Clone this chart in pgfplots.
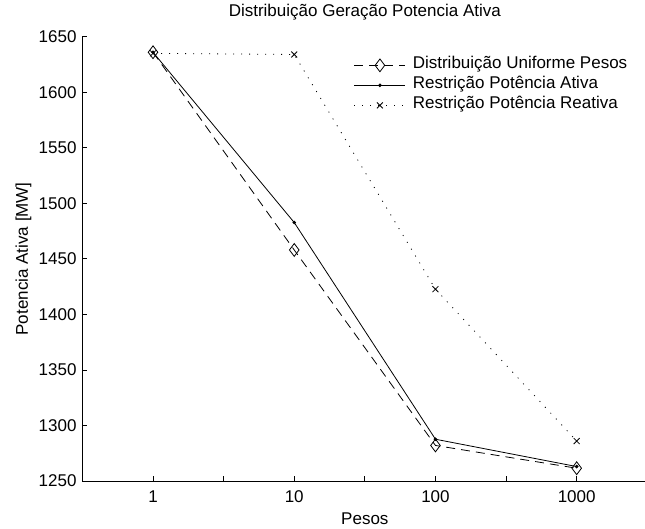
\documentclass[border=0pt]{standalone}
\usepackage{fontspec}
\setmainfont{Liberation Sans}
\usepackage{pgfplots}
\pgfplotsset{compat=1.18}

\begin{document}
\fontsize{17}{20}\selectfont
\begin{tikzpicture}
\begin{axis}[
  scale only axis,
  width=564.9pt, height=444.3pt,
  xmin=0.5, xmax=4.5,
  ymin=1250, ymax=1650,
  axis x line*=bottom, axis y line*=left,
  axis line style={-, line width=0.8pt},
  xtick={1,2,3,4}, xticklabels={1,10,100,1000},
  minor xtick={1.5,2.5,3.5,4.5},
  ytick={1250,1300,1350,1400,1450,1500,1550,1600,1650},
  tick align=inside,
  major tick length=5pt, minor tick length=5pt,
  tick style={line width=0.8pt, black},
  /pgf/number format/1000 sep={},
  /pgf/number format/assume math mode=true,
  xticklabel style={yshift=-4pt},
  title={Distribuição Geração Potencia Ativa},
  title style={at={(axis description cs:0.5,1)}, anchor=base, yshift=14pt},
  xlabel={Pesos},
  xlabel style={at={(axis description cs:0.5,-0.099)}, anchor=base},
  ylabel={Potencia Ativa [MW]},
  ylabel style={at={(axis description cs:-0.1044,0.5)}, anchor=center},
  legend cell align=left,
  legend style={draw=none, fill=none, inner sep=0pt, outer sep=0pt,
    at={(axis description cs:0.4808,0.958)}, anchor=north west,
    row sep=0pt, column sep=6pt,
    nodes={inner sep=1pt, text height=12.5pt, text depth=5.5pt}},
  legend image code/.code={%
    \draw[mark repeat=2,mark phase=2] plot coordinates {(0pt,0pt) (25.5pt,0pt) (51pt,0pt)};},
]
% uniform weights
\addplot[black, line width=0.8pt, dash pattern=on 9pt off 6pt,
  mark=diamond, mark size=6.4pt, mark options={solid, line width=0.8pt}]
  coordinates {(1,1636) (2,1458) (3,1282) (4,1261.5)};
\addlegendentry{Distribuição Uniforme Pesos}
% active power restriction
\addplot[black, line width=0.8pt, mark=*, mark size=1.4pt]
  coordinates {(1,1636) (2,1482.7) (3,1287.6) (4,1263)};
\addlegendentry{Restrição Potência Ativa}
% reactive power restriction
\addplot[black, line width=0.8pt, dash pattern=on 1pt off 7pt,
  mark=x, mark size=4.2pt, mark options={solid, line width=0.8pt}]
  coordinates {(1,1635) (2,1634) (3,1422.7) (4,1286)};
\addlegendentry{Restrição Potência Reativa}
\end{axis}
\pgfresetboundingbox
\path[use as bounding box] ([shift={(-82.4pt,-48pt)}]current axis.south west)
  rectangle ([shift={(-2.3pt,36.7pt)}]current axis.north east);
\end{tikzpicture}
\end{document}
